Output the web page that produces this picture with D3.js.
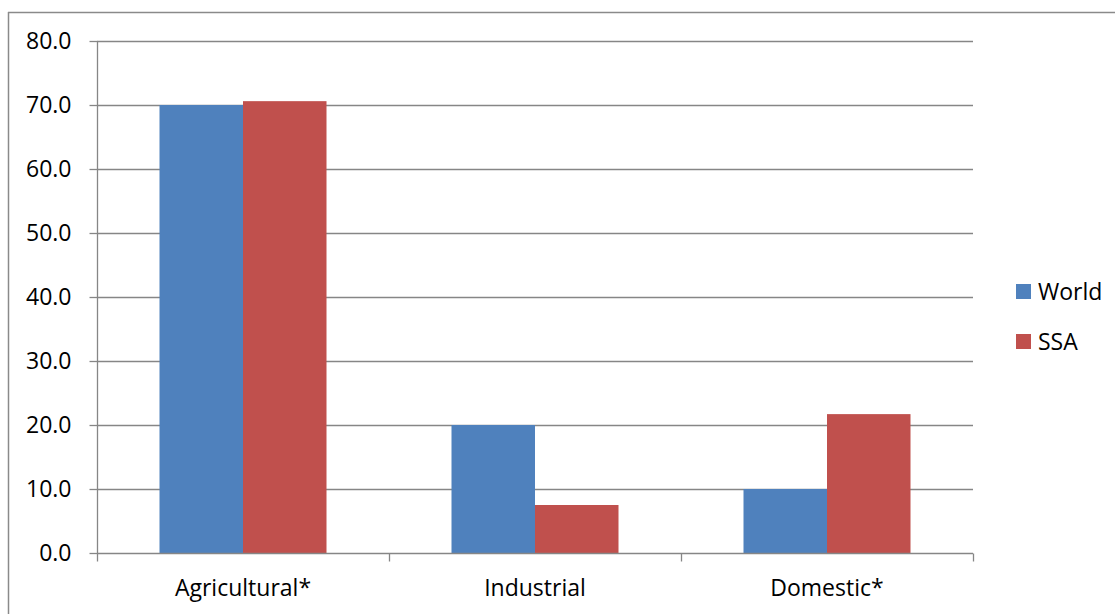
<!DOCTYPE html>
<html><head><meta charset="utf-8">
<script src="https://cdn.jsdelivr.net/npm/d3@7"></script>
<style>body{margin:0;background:#fff}svg{display:block}text{font-family:"Open Sans",sans-serif;fill:#000}</style>
</head><body>
<svg id="c" width="1115" height="614"></svg>
<script>
const categories = ["Agricultural*", "Industrial", "Domestic*"];
const seriesNames = ["World", "SSA"];
const worldValues = [70.0, 20.0, 10.0];
const ssaValues = [70.6, 7.5, 21.7];
const yTicks = [0, 10, 20, 30, 40, 50, 60, 70, 80];
const colors = ["#4F81BD", "#C0504D"];

const svg = d3.select("#c");
const L = 97, R = 973, T = 41, B = 553;
const fs = 23;

// outer frame (top and left edges visible)
svg.append("line").attr("x1", 8).attr("x2", 1115).attr("y1", 12.5).attr("y2", 12.5).attr("stroke", "#8a8a8a").attr("stroke-width", 1.5);
svg.append("line").attr("x1", 8.5).attr("x2", 8.5).attr("y1", 12).attr("y2", 614).attr("stroke", "#8a8a8a").attr("stroke-width", 1.5);

const y = d3.scaleLinear().domain([0, 80]).range([B, T]);
const x0 = d3.scaleBand().domain(categories).range([L, R]).padding(0);
const bw = x0.bandwidth();
const x1 = d3.scaleBand().domain(seriesNames).range([bw * 62.5 / 292, bw * (1 - 62.5 / 292)]).padding(0);

// gridlines
svg.append("g").selectAll("line").data(yTicks.filter(d => d > 0)).join("line")
  .attr("x1", L).attr("x2", R).attr("y1", d => Math.round(y(d)) + 0.5).attr("y2", d => Math.round(y(d)) + 0.5)
  .attr("stroke", "#868686").attr("stroke-width", 1.3);

// bars
const data = categories.map((c, i) => ({ c, vals: [worldValues[i], ssaValues[i]] }));
const g = svg.append("g").selectAll("g").data(data).join("g").attr("transform", d => `translate(${x0(d.c)},0)`);
g.selectAll("rect").data(d => d.vals.map((v, j) => ({ v, s: seriesNames[j], j }))).join("rect")
  .attr("x", d => x1(d.s)).attr("width", x1.bandwidth())
  .attr("y", d => y(d.v)).attr("height", d => B - y(d.v))
  .attr("fill", d => colors[d.j]);

// y axis
const yAxis = d3.axisLeft(y).tickValues(yTicks).tickFormat(d3.format(".1f")).tickSize(8).tickPadding(18);
const ya = svg.append("g").attr("transform", `translate(${L + 0.5},0)`).call(yAxis);
ya.select(".domain").attr("stroke", "#868686").attr("stroke-width", 1.3).attr("d", `M0,${T}V${B}`);
ya.selectAll(".tick line").attr("stroke", "#868686").attr("stroke-width", 1.3);
ya.selectAll("text").attr("font-size", fs).attr("font-family", "Open Sans").attr("fill", "#000");

// x axis
const xa = svg.append("g").attr("transform", `translate(0,${B + 0.5})`);
xa.append("line").attr("x1", L).attr("x2", R).attr("stroke", "#868686").attr("stroke-width", 1.5);
const bounds = [L].concat(categories.map(c => x0(c) + bw));
xa.selectAll(".bt").data(bounds).join("line").attr("class", "bt")
  .attr("x1", d => Math.round(d) + 0.5).attr("x2", d => Math.round(d) + 0.5).attr("y1", 0).attr("y2", 8)
  .attr("stroke", "#868686").attr("stroke-width", 1.3);
xa.selectAll("text").data(categories).join("text")
  .attr("x", d => x0(d) + bw / 2).attr("y", 42).attr("text-anchor", "middle")
  .attr("font-size", fs).text(d => d);

// legend
const lg = svg.append("g").selectAll("g").data(seriesNames).join("g")
  .attr("transform", (d, i) => `translate(1016,${284 + i * 50})`);
lg.append("rect").attr("width", 15).attr("height", 15).attr("fill", (d, i) => colors[i]);
lg.append("text").attr("x", 22).attr("y", 15.5).attr("font-size", fs).text(d => d);
</script>
</body></html>
